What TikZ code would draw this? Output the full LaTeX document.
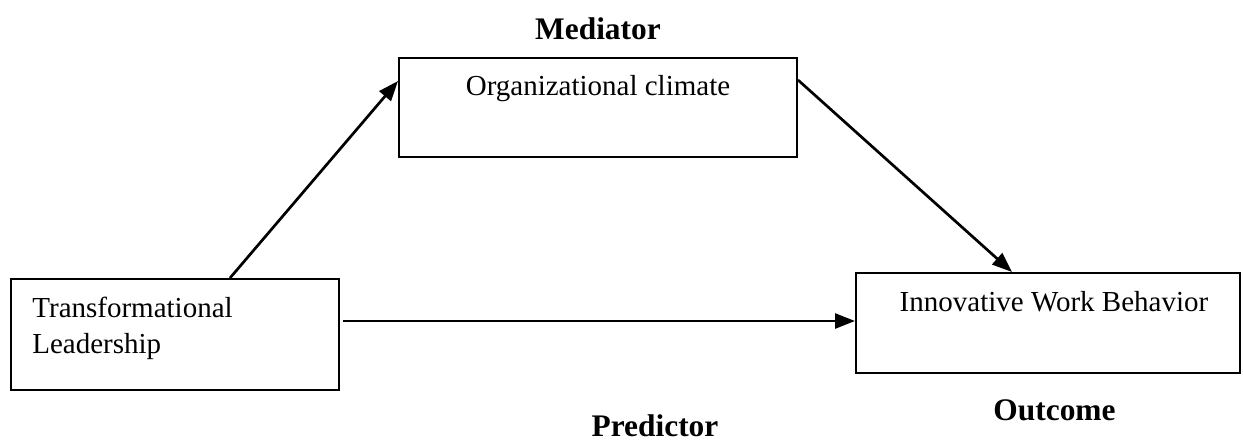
\documentclass[tikz,border=0pt]{standalone}
\usepackage{fontspec}
\setmainfont{Liberation Serif}
\usetikzlibrary{arrows.meta,calc}
\begin{document}
\begin{tikzpicture}[x=0.5pt,y=-0.5pt,
  boxnode/.style={draw=black,line width=1pt,rectangle,inner sep=0pt},
  bodytext/.style={inner sep=0pt,font=\fontsize{14.5pt}{18pt}\selectfont},
  headtext/.style={inner sep=0pt,font=\fontsize{15.7pt}{19pt}\selectfont\bfseries},
  conn/.style={line width=1.35pt,-{Triangle[length=10pt,width=7.5pt]}}]
\useasboundingbox (0,0) rectangle (1243,441);
% boxes
\node[boxnode,minimum width=164pt,minimum height=55.5pt] (tl) at (175,334.5) {};
\node[boxnode,minimum width=199pt,minimum height=49.5pt] (oc) at (598,107.5) {};
\node[boxnode,minimum width=192pt,minimum height=50pt] (iwb) at (1048,323) {};
% texts
\node[bodytext,anchor=base west] (tl1) at (32,317) {Transformational};
\node[bodytext,anchor=base west] (tl2) at (32,353) {Leadership};
\node[bodytext,anchor=base] (octxt) at (598,95) {Organizational climate};
\node[bodytext,anchor=base] (iwbtxt) at (1054,311) {Innovative Work Behavior};
\node[headtext,anchor=base] (med) at (598,39) {Mediator};
\node[headtext,anchor=base] (out) at (1054.5,420) {Outcome};
\node[headtext,anchor=base] (pred) at (655,436) {Predictor};
% connectors
\draw[conn] (230,0 |- tl.north) -- (oc.west |- 0,81);
\draw[conn] (oc.east |- 0,80) -- (1012,0 |- iwb.north);
\draw[conn,shorten <=1.5pt] (tl.east |- 0,321) -- (iwb.west |- 0,321);
\end{tikzpicture}
\end{document}
